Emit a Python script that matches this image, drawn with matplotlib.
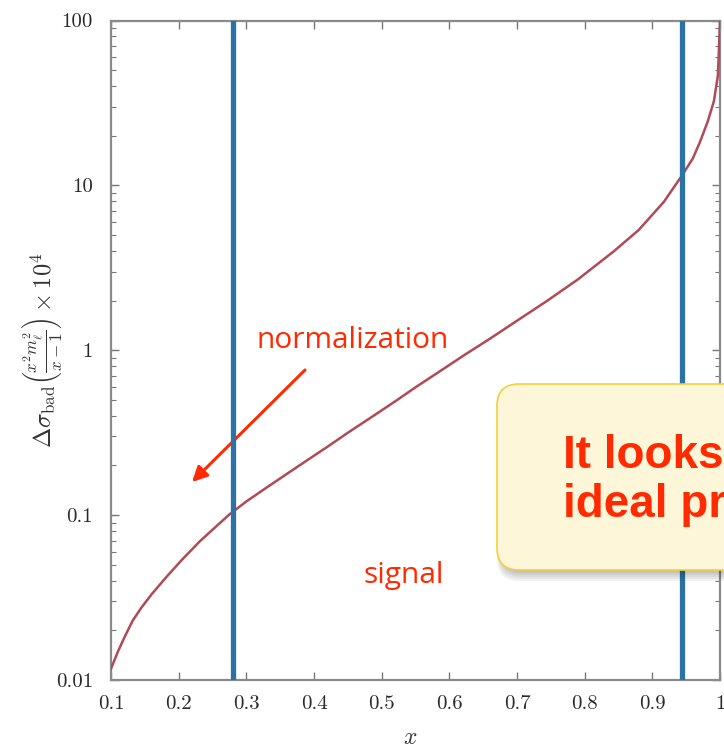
import matplotlib
matplotlib.use("Agg")
import matplotlib.pyplot as plt
from matplotlib.patches import FancyBboxPatch
from matplotlib.transforms import IdentityTransform
from matplotlib.ticker import FixedLocator, FixedFormatter, LogLocator, NullFormatter

plt.rcParams['mathtext.fontset'] = 'cm'

# data
z_vals = [0.100, 0.110, 0.120, 0.132, 0.145, 0.160, 0.182, 0.205, 0.231, 0.255, 0.275,
          0.300, 0.330, 0.360, 0.389, 0.420, 0.450, 0.487, 0.520, 0.550, 0.587, 0.620,
          0.660, 0.700, 0.745, 0.790, 0.843, 0.880, 0.917, 0.944, 0.960, 0.971, 0.982,
          0.991, 0.997, 1.000]
sigma_vals = [0.0117, 0.0148, 0.0182, 0.0229, 0.0275, 0.0331, 0.0422, 0.0537, 0.0692,
              0.0851, 0.101, 0.121, 0.147, 0.178, 0.214, 0.260, 0.316, 0.398, 0.490,
              0.596, 0.750, 0.923, 1.175, 1.51, 2.00, 2.69, 3.98, 5.37, 7.94, 11.5,
              14.6, 18.6, 24.5, 32.4, 46.8, 100.0]
cut_lines = [0.28, 0.944]
x_ticks = [0.1, 0.2, 0.3, 0.4, 0.5, 0.6, 0.7, 0.8, 0.9, 1.0]
x_tick_labels = ['0.1', '0.2', '0.3', '0.4', '0.5', '0.6', '0.7', '0.8', '0.9', '1']
y_ticks = [0.01, 0.1, 1, 10, 100]
y_tick_labels = ['0.01', '0.1', '1', '10', '100']

W, H = 724, 752
fig = plt.figure(figsize=(W / 100, H / 100), dpi=100)
ax = fig.add_axes([111 / W, 1 - 680 / H, (720 - 111) / W, (680 - 20.5) / H])

ax.plot(z_vals, sigma_vals, color='#b04a55', lw=1.8, zorder=3,
        solid_joinstyle='round', antialiased=True)
for xv in cut_lines:
    ax.axvline(xv, color='#2b73a6', lw=3.8, zorder=4)

ax.set_yscale('log')
ax.set_xlim(0.1, 1.0)
ax.set_ylim(0.01, 100)

ax.xaxis.set_major_locator(FixedLocator(x_ticks))
ax.xaxis.set_major_formatter(FixedFormatter(x_tick_labels))
ax.yaxis.set_major_locator(FixedLocator(y_ticks))
ax.yaxis.set_major_formatter(FixedFormatter(y_tick_labels))
ax.yaxis.set_minor_locator(LogLocator(base=10, subs=range(2, 10)))
ax.yaxis.set_minor_formatter(NullFormatter())

ax.tick_params(which='both', direction='in', top=True, right=True, colors='#777777',
               labelcolor='#2a2a2a')
ax.tick_params(which='major', length=6, width=1.0, labelsize=15)
ax.tick_params(which='minor', length=3.5, width=0.8)
ax.tick_params(axis='x', pad=11)
ax.tick_params(axis='y', pad=13)
for lab in ax.get_xticklabels() + ax.get_yticklabels():
    lab.set_fontfamily('cmr10')
for s in ax.spines.values():
    s.set_color('#8a8a8a')
    s.set_linewidth(1.6)

fig.text(42 / W, 1 - 350 / H,
         r'$\Delta\sigma_{\rm bad}\left(\frac{x^2 m_\ell^2}{x-1}\right)\times 10^4$',
         fontsize=17.5, color='#333333', rotation=90, ha='center', va='center')
fig.text(410 / W, 1 - 737 / H, r'$x$', fontsize=17, color='#333333', ha='center', va='center')

# annotations
red = '#ff2a00'
fig.text(353 / W, 1 - 340 / H, 'normalization', fontsize=21.5, color=red,
         family='Open Sans', ha='center', va='center')
fig.text(404 / W, 1 - 576 / H, 'signal', fontsize=21.5, color=red,
         family='Open Sans', ha='center', va='center')
ax.annotate('', xy=(192, H - 482), xycoords=IdentityTransform(),
            xytext=(305, H - 370), textcoords=IdentityTransform(),
            arrowprops=dict(arrowstyle='-|>,head_length=0.9,head_width=0.45',
                            color=red, lw=2.2, shrinkA=0, shrinkB=0))

# shadow of the yellow box
bx0, by0, bx1, by1 = 497, H - 570, 800, H - 384
for i in range(5):
    off = 3 + i * 2
    sh = FancyBboxPatch((bx0 + 4 - i, by0 - off), bx1 - bx0, by1 - by0,
                        boxstyle='round,pad=0,rounding_size=22',
                        transform=IdentityTransform(), facecolor='#000000',
                        edgecolor='none', alpha=0.05, zorder=8)
    fig.add_artist(sh)
box = FancyBboxPatch((bx0, by0), bx1 - bx0, by1 - by0,
                     boxstyle='round,pad=0,rounding_size=22',
                     transform=IdentityTransform(), facecolor='#fdf6d8',
                     edgecolor='#f3cf3c', lw=1.2, zorder=9)
fig.add_artist(box)
fig.text(563 / W, 1 - 468 / H, 'It looks like an', fontsize=33, color=red,
         family='Liberation Sans', weight='bold', ha='left', va='baseline', zorder=10)
fig.text(563 / W, 1 - 517 / H, 'ideal probe', fontsize=33, color=red,
         family='Liberation Sans', weight='bold', ha='left', va='baseline', zorder=10)

fig.savefig('out.png', dpi=100)
